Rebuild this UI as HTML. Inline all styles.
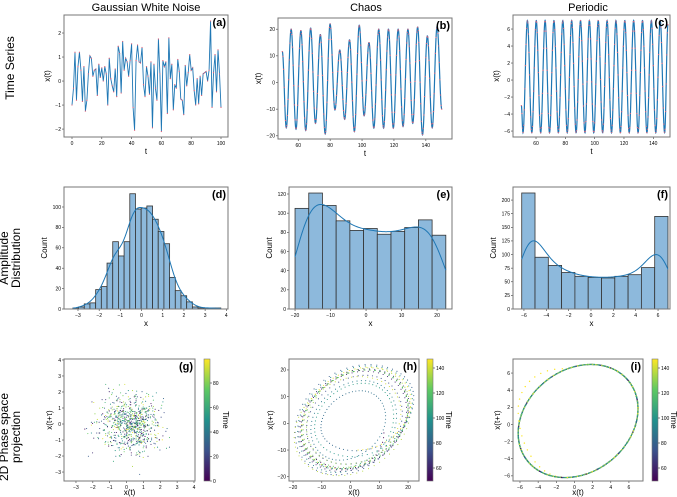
<!DOCTYPE html>
<html><head><meta charset="utf-8"><style>
body{margin:0;background:#fff}
svg{display:block;font-family:"Liberation Sans","DejaVu Sans",sans-serif}
</style></head><body>
<svg id="fig" width="677" height="497" viewBox="0 0 677 497" xmlns="http://www.w3.org/2000/svg">
<text x="146" y="11" font-size="11" text-anchor="middle">Gaussian White Noise</text>
<text x="366" y="11" font-size="11" text-anchor="middle">Chaos</text>
<text x="588" y="11" font-size="11" text-anchor="middle">Periodic</text>
<text font-size="12" text-anchor="middle" transform="translate(14,68) rotate(-90)">Time Series</text>
<text font-size="12" text-anchor="middle" transform="translate(20,258) rotate(-90)"><tspan x="0" dy="-12">Amplitude</tspan><tspan x="0" dy="12">Distribution</tspan></text>
<text font-size="12" text-anchor="middle" transform="translate(20,437) rotate(-90)"><tspan x="0" dy="-12">2D Phase space</tspan><tspan x="0" dy="12">projection</tspan></text>
<defs><linearGradient id="vir" x1="0" y1="1" x2="0" y2="0">
<stop offset="0" stop-color="#440154"/><stop offset="0.25" stop-color="#3b528b"/><stop offset="0.5" stop-color="#21918c"/><stop offset="0.75" stop-color="#5ec962"/><stop offset="1" stop-color="#fde725"/></linearGradient></defs>
</svg>
<script>
const noiseValues=[-1,-0.3,1.2,-0.8,0.6,1.2,0.45,-0.85,0.6,-1.25,-0.8,0.3,1.05,0.95,0.2,0.45,0.5,-0.6,0.7,0.15,0.55,0,0.6,0.3,-1,0.95,0.1,-0.2,-0.45,0.5,-0.65,1.45,1.15,-0.5,1.65,0.45,0.95,0.8,0.2,0.85,1.55,-1.1,-2.05,0.85,1.5,0.8,0.75,1.4,-0.15,-0.65,0.6,0.2,-0.55,0.8,-1.95,0.7,-0.3,-0.8,1.75,0.3,-2.1,0.85,0.6,0.8,-1.35,1.8,0.1,0.7,-1.2,-0.15,-0.3,0.9,0.4,-0.75,-0.8,-1.4,0.65,-0.2,0.35,1.1,0.45,0.55,-0.4,-1,0.1,-0.95,0.2,-0.6,0.3,0.35,0.4,0,0.45,2.5,-1.1,0.35,1.1,-0.45,1.3,0.3,-1.1];
const chaosExtrema=[11.6,-17,20,-17.5,19.5,-18,20.4,-15.3,18,-19.3,22,-10.3,12.2,-13.8,16,-18.4,21.5,-12.5,15,-17.1,20,-17.1,20,-17.1,20,-16.5,20,-15.3,20.8,-19.6,17.5,-17,21,-10];
const periodicExtrema=[-3,-6.2,7,-6.2,7,-6.2,7,-6.2,7,-6.2,7,-6.2,7,-6.2,7,-6.2,7,-6.2,7,-6.2,7,-6.2,7,-6.2,7,-6.2,7,-6.2,7,-6.2,7,-6.2,7,-6.2,6.5];
const noiseCounts=[1,2,5,6,19,22,45,66,52,66,113,98,99,101,88,76,64,31,18,13,7,2,1,1,1,1];
const chaosCounts=[105,121,108,92,82,84,78,81,85,93,77];
const periodicCounts=[213,95,80,67,60,58,57,60,63,76,170];
const noiseBins={start:-3.24,width:0.2685};
const chaosBins={start:-20,width:3.86};
const periodicBins={start:-6.2,width:1.19};
const ticksA={x:[0,20,40,60,80,100],y:[-2,-1,0,1,2]};
const ticksB={x:[60,80,100,120,140],y:[-20,-10,0,10,20]};
const ticksC={x:[60,80,100,120,140],y:[-6,-4,-2,0,2,4,6]};
const ticksD={x:[-3,-2,-1,0,1,2,3,4],y:[0,20,40,60,80,100]};
const ticksE={x:[-20,-10,0,10,20],y:[0,20,40,60,80,100,120]};
const ticksF={x:[-6,-4,-2,0,2,4,6],y:[0,25,50,75,100,125,150,175,200]};
const ticksG={x:[-3,-2,-1,0,1,2,3,4],y:[-3,-2,-1,0,1,2,3,4]};
const ticksH={x:[-20,-10,0,10,20],y:[-20,-10,0,10,20]};
const ticksI={x:[-6,-4,-2,0,2,4,6],y:[-6,-4,-2,0,2,4,6]};
const cbTicksG=[0,20,40,60,80];
const cbTicksH=[60,80,100,120,140];

const NS="http://www.w3.org/2000/svg";
const svg=document.getElementById('fig');
function mk(tag,attrs,parent){const e=document.createElementNS(NS,tag);for(const k in attrs)e.setAttribute(k,attrs[k]);(parent||svg).appendChild(e);return e;}
const VS=[[68,1,84],[59,82,139],[33,145,140],[94,201,98],[253,231,37]];
function viridis(t){t=Math.max(0,Math.min(1,t))*4;const i=Math.min(3,Math.floor(t)),f=t-i;const a=VS[i],b=VS[i+1];return `rgb(${a.map((v,k)=>Math.round(v+(b[k]-v)*f)).join(',')})`;}

function panel(o){
  const g=mk('g',{});
  
  
  const xs=v=>o.x0+(v-o.xd[0])/(o.xd[1]-o.xd[0])*(o.x1-o.x0);
  const ys=v=>o.y1-(v-o.yd[0])/(o.yd[1]-o.yd[0])*(o.y1-o.y0);
  const plot=mk('g',{},g);
  o.ticks.x.forEach(v=>{const x=xs(v);mk('line',{x1:x,x2:x,y1:o.y1,y2:o.y1+2,stroke:'#333','stroke-width':0.6},g);const t=mk('text',{x:x,y:o.y1+8,'font-size':5,'text-anchor':'middle'},g);t.textContent=v<0?'\u2212'+(-v):v;});
  o.ticks.y.forEach(v=>{const y=ys(v);mk('line',{x1:o.x0-2,x2:o.x0,y1:y,y2:y,stroke:'#333','stroke-width':0.6},g);const t=mk('text',{x:o.x0-3,y:y+1.8,'font-size':5,'text-anchor':'end'},g);t.textContent=v<0?'\u2212'+(-v):v;});
  const xl=mk('text',{x:(o.x0+o.x1)/2,y:o.y1+(o.xlOff||17),'font-size':8,'text-anchor':'middle'},g);xl.textContent=o.xlabel;
  
  
  const yl=mk('text',{'font-size':8,'text-anchor':'middle',transform:`translate(${o.x0-o.ylOff},${(o.y0+o.y1)/2}) rotate(-90)`},g);yl.textContent=o.ylabel;
  
  
  mk('rect',{x:o.x0,y:o.y0,width:o.x1-o.x0,height:o.y1-o.y0,fill:'none',stroke:'#777','stroke-width':1},g);
  const pl=mk('text',{x:o.x1-2,y:o.y0+11,'font-size':11,'font-weight':'bold','text-anchor':'end'},g);pl.textContent=o.label;
  
  
  return {g:plot,xs,ys};
}
function series(ext,t0,tFirst,half,tEnd,dt){
  const times=[t0];for(let i=1;i<ext.length-1;i++)times.push(tFirst+half*(i-1));times.push(tEnd);
  const out=[];
  for(let t=t0;t<=tEnd+1e-9;t+=dt){let i=0;while(i<times.length-2&&t>times[i+1])i++;
    const s=(t-times[i])/(times[i+1]-times[i]);const v=ext[i]+(ext[i+1]-ext[i])*(1-Math.cos(Math.PI*Math.min(1,Math.max(0,s))))/2;out.push([t,v]);}
  return out;
}
function linePlot(p,pts,name,w){
  const d=pts.map((q,i)=>(i?'L':'M')+p.xs(q[0]).toFixed(2)+','+p.ys(q[1]).toFixed(2)).join('');
  const l=mk('path',{d:d,fill:'none',stroke:'#1f77b4','stroke-width':w||1},p.g);
  
  
}
function dots(p,pts,step){
  pts.forEach((q,i)=>{if(i%step)return;const c=mk('circle',{cx:p.xs(q[0]),cy:p.ys(q[1]),r:0.6,fill:'#e0607a'},p.g);
    
    });
}
function hist(p,counts,bins,bw,name){
  counts.forEach((c,i)=>{const a=bins.start+i*bins.width;const r=mk('rect',{x:p.xs(a),y:p.ys(c),width:p.xs(a+bins.width)-p.xs(a),height:p.ys(0)-p.ys(c),fill:'#8db9dc',stroke:'#333','stroke-width':0.8},p.g);
    
    });
  const lo=bins.start,hi=bins.start+bins.width*counts.length,pts=[];
  for(let x=lo;x<=hi+1e-9;x+=(hi-lo)/150){let s=0;counts.forEach((c,i)=>{const m=lo+(i+0.5)*bins.width;s+=c*Math.exp(-0.5*((x-m)/bw)**2)/(bw*Math.sqrt(2*Math.PI))*bins.width;});pts.push([x,s]);}
  linePlot(p,pts,name+'-kde');
}
function colorbar(x0,x1,y0,y1,lo,hi,ticks,name){
  const g=mk('g',{});
  
  
  mk('rect',{x:x0,y:y0,width:x1-x0,height:y1-y0,fill:'url(#vir)',stroke:'#777','stroke-width':0.6},g);
  ticks.forEach(v=>{const y=y1-(v-lo)/(hi-lo)*(y1-y0);mk('line',{x1:x1,x2:x1+2,y1:y,y2:y,stroke:'#333','stroke-width':0.6},g);const t=mk('text',{x:x1+3,y:y+1.8,'font-size':5},g);t.textContent=v;});
  const t=mk('text',{'font-size':8,transform:`translate(${x1+13},${(y0+y1)/2}) rotate(90)`,'text-anchor':'middle'},g);t.textContent='Time';
}
function scatter(p,pts,lo,hi,r){
  const n=pts.length;const order=[];for(let i=0;i<n;i++)order.push((i*37)%n);
  const seen=new Set();
  order.forEach(j=>{if(seen.has(j))return;seen.add(j);const q=pts[j];const c=mk('circle',{cx:p.xs(q[0]),cy:p.ys(q[1]),r:r,fill:viridis((q[2]-lo)/(hi-lo))},p.g);
    
    });
  pts.forEach((q,j)=>{if(seen.has(j))return;const c=mk('circle',{cx:p.xs(q[0]),cy:p.ys(q[1]),r:r,fill:viridis((q[2]-lo)/(hi-lo))},p.g);
    
    });
}

// Row 1
const pa=panel({name:'panel-a-noise-series',x0:64,x1:228,y0:15,y1:137,xd:[-5.37,104.7],yd:[-2.33,2.75],ticks:ticksA,xlabel:'t',ylabel:'x(t)',label:'(a)',ylOff:14});
const noisePts=noiseValues.map((v,i)=>[i,v]);
linePlot(pa,noisePts,'noise-line',0.9);dots(pa,noisePts,1);
const chaosPts=series(chaosExtrema,50,52.5,3.05,150,0.1);
const pb=panel({name:'panel-b-chaos-series',x0:278,x1:452,y0:18,y1:139,xd:[47.3,156.4],yd:[-21.2,24.2],ticks:ticksB,xlabel:'t',ylabel:'x(t)',label:'(b)',ylOff:17});
linePlot(pb,chaosPts,'chaos-line',1.2);dots(pb,chaosPts,4);
const periodicPts=series(periodicExtrema,50,51.1,3.02,150,0.1);
const pc=panel({name:'panel-c-periodic-series',x0:513,x1:670,y0:15,y1:137,xd:[44.3,151.4],yd:[-6.7,7.65],ticks:ticksC,xlabel:'t',ylabel:'x(t)',label:'(c)',ylOff:14});
linePlot(pc,periodicPts,'periodic-line',1.2);dots(pc,periodicPts,4);
// Row 2
const pd=panel({name:'panel-d-noise-hist',x0:64,x1:228,y0:187,y1:309,xd:[-3.66,4.08],yd:[0,119.6],ticks:ticksD,xlabel:'x',ylabel:'Count',label:'(d)',ylOff:17});
hist(pd,noiseCounts,noiseBins,0.3,'noise-hist');
const pe=panel({name:'panel-e-chaos-hist',x0:289,x1:452,y0:187,y1:309,xd:[-21.7,24.2],yd:[0,127.3],ticks:ticksE,xlabel:'x',ylabel:'Count',label:'(e)',ylOff:17});
hist(pe,chaosCounts,chaosBins,3.6,'chaos-hist');
const pf=panel({name:'panel-f-periodic-hist',x0:513,x1:670,y0:187,y1:309,xd:[-6.98,7.07],yd:[0,224],ticks:ticksF,xlabel:'x',ylabel:'Count',label:'(f)',ylOff:17});
hist(pf,periodicCounts,periodicBins,1.1,'periodic-hist');
// Row 3
const pg=panel({name:'panel-g-noise-phase',x0:64,x1:195,y0:359,y1:481,xd:[-3.71,4.06],yd:[-3.56,4.06],ticks:ticksG,xlabel:'x(t)',ylabel:'x(t+\u03c4)',label:'(g)',ylOff:12,xlOff:14});
const gPts=[];const N=noiseValues.length;
for(let k=1;k<=8;k++)for(let i=0;i<N;i++){const a=noiseValues[i],b=noiseValues[(i*k+3*k)%N],c=noiseValues[(i+k)%N],d=noiseValues[(i*3+k*7)%N];
  gPts.push([(a+b)/Math.SQRT2,(c-d)/Math.SQRT2,(i*7+k*13)%99]);}
scatter(pg,gPts,0,99.6,0.55);
colorbar(204,210,359,481,0,99.6,cbTicksG,'colorbar-g');
const tau=13;
const ph=panel({name:'panel-h-chaos-phase',x0:289,x1:419,y0:359,y1:481,xd:[-21.4,23.8],yd:[-21.6,24.1],ticks:ticksH,xlabel:'x(t)',ylabel:'x(t+\u03c4)',label:'(h)',ylOff:16,xlOff:14});
const hPts=[];for(let i=0;i+tau<chaosPts.length;i+=1)hPts.push([chaosPts[i][1],chaosPts[i+tau][1],chaosPts[i][0]]);
scatter(ph,hPts,49.6,147.2,0.55);
colorbar(427,433,359,481,49.6,147.2,cbTicksH,'colorbar-h');
const pi=panel({name:'panel-i-periodic-phase',x0:513,x1:643,y0:359,y1:481,xd:[-6.77,7.55],yd:[-6.6,7.64],ticks:ticksI,xlabel:'x(t)',ylabel:'x(t+\u03c4)',label:'(i)',ylOff:13,xlOff:14});
const iPts=[];for(let i=30;i+tau<periodicPts.length;i++)iPts.push([periodicPts[i][1],periodicPts[i+tau][1],periodicPts[i][0]]);
scatter(pi,iPts,49.6,147.2,0.7);
colorbar(652,658,359,481,49.6,147.2,cbTicksH,'colorbar-i');
</script>
</body></html>
